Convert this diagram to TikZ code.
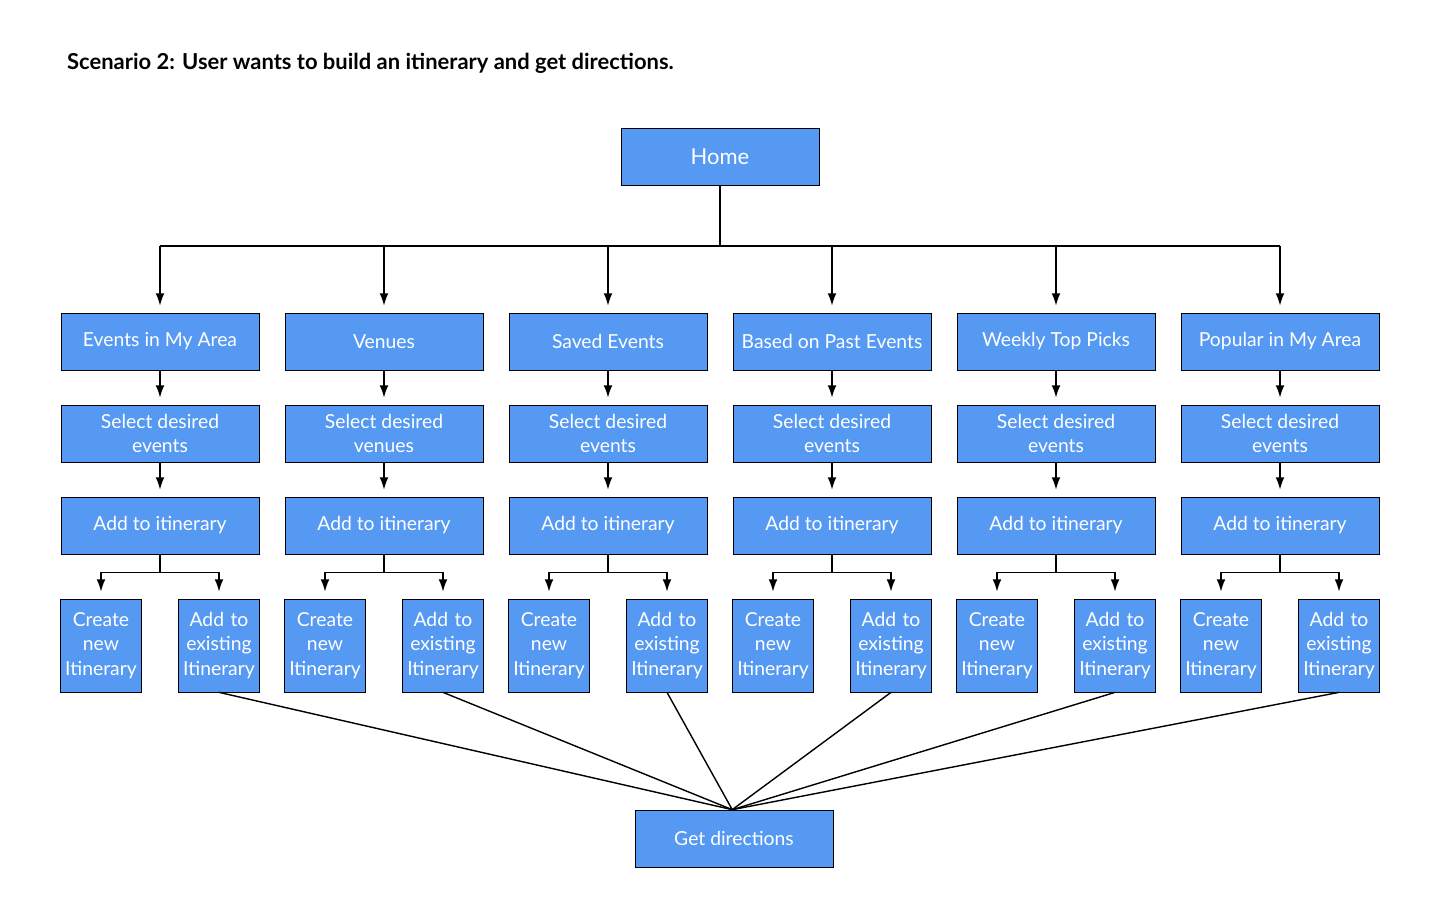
\documentclass[tikz,border=0pt]{standalone}
\usepackage{fontspec}
\setmainfont{Lato}
\usetikzlibrary{arrows.meta}
\definecolor{boxblue}{HTML}{5599F2}

\begin{document}
\begin{tikzpicture}[x=0.02cm,y=-0.02cm,>={Latex[length=7pt,width=5pt]}]
  \tikzstyle{box}=[draw=black,fill=boxblue,text=white,inner sep=1pt,align=center,
    minimum width=3.96cm,minimum height=1.14cm,font=\fontsize{11}{14}\selectfont]
  \tikzstyle{small box}=[box,minimum width=1.6cm,minimum height=1.86cm,text width=1.55cm]
  \tikzstyle{link}=[->,thick,shorten >=4pt]
  \useasboundingbox (0,0) rectangle (1440,907);

  \node[anchor=west,font=\fontsize{12.5}{15}\selectfont\bfseries] (title) at (61,63)
    {Scenario 2: User wants to build an itinerary and get directions.};

  % Home and directions
  \node[box,font=\fontsize{12.5}{15}\selectfont] (home) at (720,156.5) {Home};
  \node[box] (dir) at (734,838.5) {Get directions};
  \coordinate (split) at (720,246);

  \foreach \i/\top/\sel in {1/Events in My Area/events,2/Venues/venues,3/Saved Events/events,
      4/Based on Past Events/events,5/Weekly Top Picks/events,6/Popular in My Area/events} {
    \pgfmathsetmacro{\cx}{160+224*(\i-1)}
    \node[box] (T-\i) at (\cx,341.5) {\top};
    \node[box] (S-\i) at (\cx,433.5) {Select desired\\\sel};
    \node[box] (A-\i) at (\cx,525.5) {Add to itinerary};
    \node[small box] (C-\i) at (\cx-59,645.5) {Create\\new\\Itinerary};
    \node[small box] (E-\i) at (\cx+59,645.5) {Add to\\existing\\Itinerary};

    % connectors
    \draw[link] (split -| T-\i) -- (T-\i);
    \draw[link] (T-\i) -- (S-\i);
    \draw[link] (S-\i) -- (A-\i);
    \draw[thick] (A-\i.south) -- ++(0,18) coordinate (fork-\i);
    \draw[link] (fork-\i) -| (C-\i);
    \draw[link] (fork-\i) -| (E-\i);
    \draw[thick] (E-\i.south) -- ([xshift=-1pt]dir.north);
  }
  \draw[thick] (home) -- (split);
  \draw[thick] (split -| T-1) -- (split -| T-6);
\end{tikzpicture}
\end{document}
